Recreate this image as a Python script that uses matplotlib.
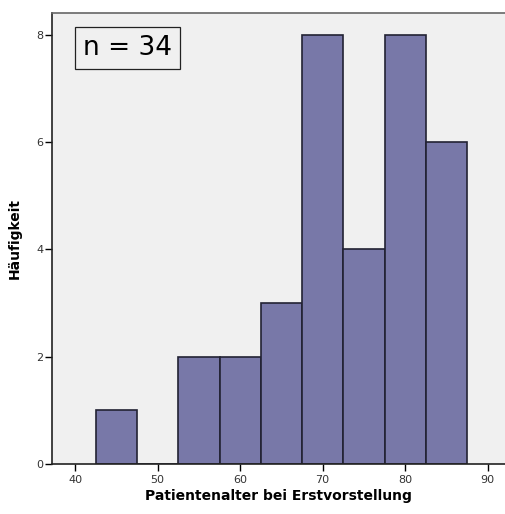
import matplotlib
matplotlib.use("Agg")
import matplotlib.pyplot as plt
import numpy as np

bin_edges = [42.5, 47.5, 52.5, 57.5, 62.5, 67.5, 72.5, 77.5, 82.5, 87.5]
counts = [1, 0, 2, 2, 3, 8, 4, 8, 6]
xticks = [40, 50, 60, 70, 80, 90]
yticks = [0, 2, 4, 6, 8]
annotation = "n = 34"
xlabel = "Patientenalter bei Erstvorstellung"
ylabel = "Häufigkeit"

fig = plt.figure(figsize=(5.06, 5.14), dpi=100)
ax = fig.add_axes([52/506, 50/514, (505-52)/506, (464-13)/514])
ax.set_facecolor("#f0f0f0")

lefts = np.array(bin_edges[:-1])
widths = np.diff(bin_edges)
ax.bar(lefts, counts, width=widths, align="edge", color="#7878a8",
       edgecolor="#222233", linewidth=1.2)

ax.set_xlim(37.2, 92.1)
ax.set_ylim(0, 8.41)
ax.set_xticks(xticks)
ax.set_yticks(yticks)
ax.tick_params(axis="both", labelsize=8, direction="out", length=5, width=1,
               colors="black", labelcolor="#333333")
ax.tick_params(axis="x", pad=3)
ax.tick_params(axis="y", pad=1)

for s in ["left", "bottom"]:
    ax.spines[s].set_color("#222222")
    ax.spines[s].set_linewidth(1.2)
ax.spines["top"].set_color("#666666")
ax.spines["top"].set_linewidth(1.2)
ax.spines["right"].set_visible(False)

ax.set_xlabel(xlabel, fontsize=10, fontweight="bold", labelpad=3)
ax.set_ylabel(ylabel, fontsize=10, fontweight="bold", labelpad=11)

ax.text(0.166, 0.922, annotation, transform=ax.transAxes, fontsize=19,
        ha="center", va="center",
        bbox=dict(boxstyle="square,pad=0.3", facecolor="#f0f0f0", edgecolor="#222222", linewidth=0.9))

fig.savefig("out.png", dpi=100)
